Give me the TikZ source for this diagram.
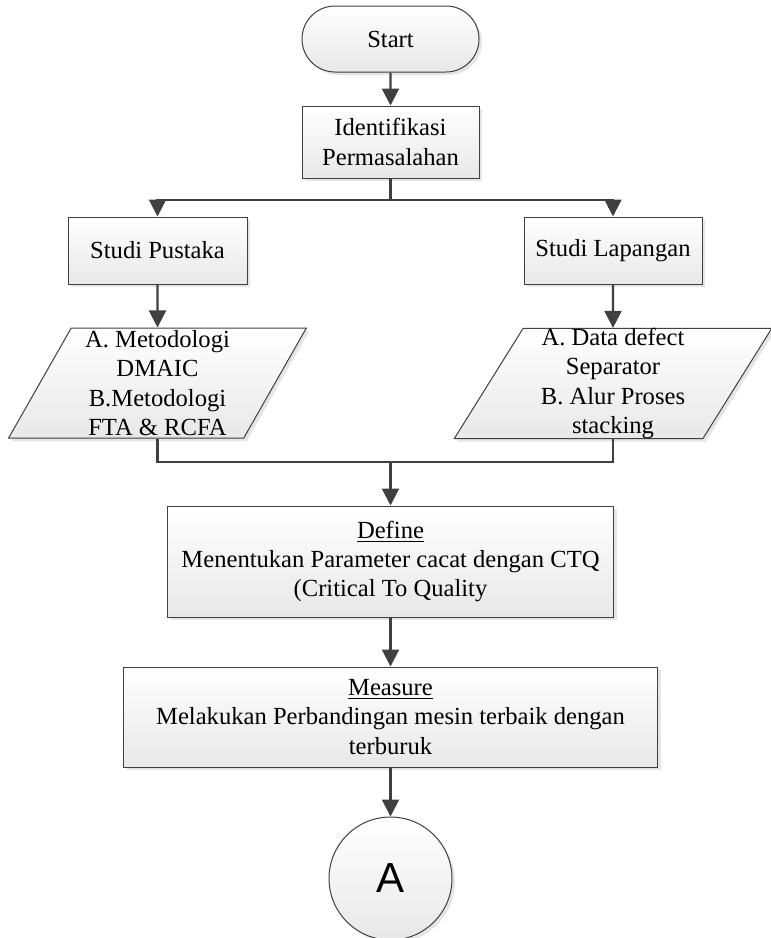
\documentclass[tikz,border=0pt]{standalone}
\usepackage{fontspec}
\setmainfont{Liberation Serif}
\newfontfamily\konfont{Liberation Sans}
\usetikzlibrary{positioning, shapes.geometric, shapes.misc, arrows.meta, shadows}

\tikzset{
  basis/.style={draw=black!75, line width=0.5pt, top color=white, bottom color=black!9,
    drop shadow={shadow xshift=1.5pt, shadow yshift=-1.5pt, fill=black!20},
    font=\fontsize{12.3}{14.6}\selectfont, align=center, inner sep=0pt},
  proses/.style={basis, rectangle},
  terminal/.style={basis, rounded rectangle},
  masukan/.style={basis, trapezium, trapezium left angle=63.4, trapezium right angle=116.6,
    trapezium stretches},
  konektor/.style={basis, circle, font=\konfont\fontsize{21}{21}\selectfont},
  garis/.style={draw=black!75, line width=1.1pt},
  panah/.style={garis, -{Triangle[width=8.5pt,length=8.5pt]}},
}

\begin{document}
\begin{tikzpicture}[x=0.5pt, y=-0.5pt]
\useasboundingbox (0,0) rectangle (771,938);
% atas
\node[terminal, minimum width=88.5pt, minimum height=33pt] (start) at (390.5,39) {Start};
\node[proses, minimum width=88.5pt, minimum height=36pt] (ident) at (390.5,142) {Identifikasi\\Permasalahan};
\coordinate (cabang) at (390.5,200);
% kiri
\node[proses, minimum width=89.5pt, minimum height=33.5pt] (pustaka) at (157.5,250.5) {Studi Pustaka};
\node[masukan, minimum width=149pt, minimum height=55pt] (metode) at (157.5,383) {A. Metodologi\\DMAIC\\B.Metodologi\\FTA \& RCFA};
% kanan
\node[proses, minimum width=89pt, minimum height=33.5pt] (lapangan) at (613,250.5) {Studi Lapangan};
\node[masukan, minimum width=159pt, minimum height=55pt] (datadef) at (613,383.5) {A. Data defect\\Separator\\B. Alur Proses\\stacking};
\coordinate (gabung) at (390.5,462);
% bawah
\node[proses, minimum width=223pt, minimum height=55.5pt] (define) at (390.5,561.5) {\underline{Define}\\Menentukan Parameter cacat dengan CTQ\\(Critical To Quality};
\node[proses, minimum width=267pt, minimum height=50pt] (measure) at (390.5,717) {\underline{Measure}\\Melakukan Perbandingan mesin terbaik dengan\\terburuk};
\node[konektor, minimum size=61.5pt] (hubA) at (390.5,878.5) {A};
% panah
\draw[panah] (start) -- (ident);
\draw[garis] (ident) -- (cabang);
\draw[panah] (cabang) -| (pustaka);
\draw[panah] (cabang) -| (lapangan);
\draw[panah] (pustaka) -- (metode);
\draw[panah] (lapangan) -- (datadef);
\draw[garis] (metode.south) |- (gabung);
\draw[garis] (datadef.south) |- (gabung);
\draw[panah] (gabung) -- (define);
\draw[panah] (define) -- (measure);
\draw[panah] (measure) -- (hubA);
\end{tikzpicture}
\end{document}
